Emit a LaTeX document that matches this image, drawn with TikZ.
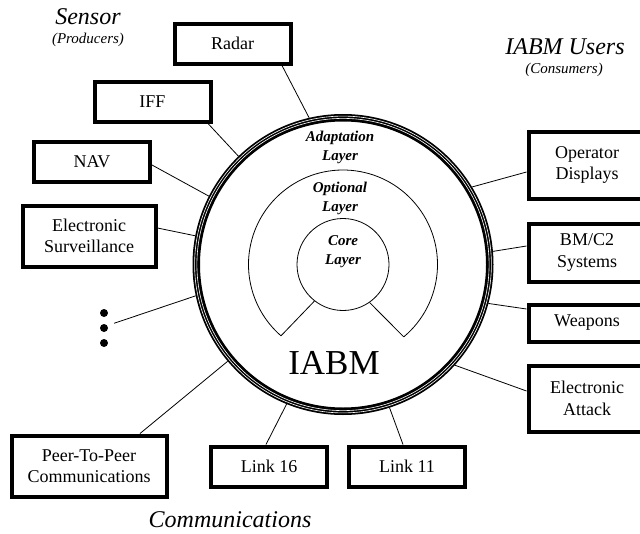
\documentclass[tikz,border=0pt]{standalone}
\usepackage{fontspec}
\setmainfont{Liberation Serif}
\usetikzlibrary{calc}

\tikzset{
  box/.style={draw, line width=4pt, align=center, inner sep=0pt, font=\fontsize{18}{21.5}\selectfont},
  small box/.style={box, minimum width=116pt, minimum height=40pt},
  user box/.style={box, minimum width=117pt},
  link/.style={line width=0.8pt},
  layer/.style={align=center, font=\fontsize{15}{19}\selectfont\bfseries\itshape},
  group/.style={font=\fontsize{24}{28}\selectfont\itshape},
  role/.style={font=\fontsize{15}{18}\selectfont\itshape}
}

\begin{document}
\begin{tikzpicture}[x=1pt, y=-1pt]
    \clip (0,0) rectangle (640,533);
    \coordinate (centre) at (343,264.5);

    % Anello esterno
    \node[circle, minimum size=301pt, inner sep=0pt, outer sep=0pt] (iabm) at (centre) {};
    \draw[line width=7.5pt] (centre) circle (146.75pt);
    \draw[white, line width=0.6pt] (centre) circle (148.4pt);
    \draw[white, line width=0.6pt] (centre) circle (146.1pt);

    % Strati interni
    \node[circle, draw, line width=0.8pt, minimum size=92pt, inner sep=0pt] (core) at (centre) {};
    \coordinate (optL) at ([shift={(229:94.5pt)}]centre);
    \coordinate (optR) at ([shift={(-50:94.5pt)}]centre);
    \draw[link] (optR) arc[start angle=-50, end angle=229, radius=94.5pt];
    \draw[link] (core.232) -- (optL);
    \draw[link] (core.-55) -- (optR);

    \node[layer] (adapt) at (340,147.5) {Adaptation\\Layer};
    \node[layer] (optional) at (340,198) {Optional\\Layer};
    \node[layer] (corelab) at (343,252) {Core\\Layer};
    \node[font=\fontsize{35}{40}\selectfont] (name) at (334,363) {IABM};

    % Sensori
    \node[small box] (radar) at (232.5,43.5) {Radar};
    \node[small box] (iff) at (152.5,101.5) {IFF};
    \node[small box] (nav) at (92,161.5) {NAV};
    \node[box, minimum width=133pt, minimum height=61pt] (surv) at (89,236) {Electronic\\Surveillance};
    \node[circle, minimum size=22pt, inner sep=0pt] (more) at (104,328) {};
    \foreach \dy in {-15,0,15}
        \fill ([yshift=\dy pt]more.center) circle (4pt);

    % Comunicazioni
    \node[box, minimum width=155pt, minimum height=61pt] (peer) at (89,466) {Peer-To-Peer\\Communications};
    \node[small box] (link16) at (269,466.5) {Link 16};
    \node[small box] (link11) at (407,466.5) {Link 11};

    % Utenti
    \node[user box, minimum height=67pt] (oper) at (587,165) {Operator\\Displays};
    \node[user box, minimum height=58pt] (bmc2) at (587,252.5) {BM/C2\\Systems};
    \node[user box, minimum height=37pt] (weap) at (587,323) {Weapons};
    \node[user box, minimum height=66pt] (attack) at (587,398.5) {Electronic\\Attack};

    % Collegamenti
    \draw[link] ([xshift=49.5pt]radar.south) -- (iabm.103.7);
    \draw[link] ([xshift=55.5pt]iff.south) -- (iabm.134.1);
    \draw[link] ([yshift=-3.5pt]nav.east) -- (iabm.153.9);
    \draw[link] ([yshift=8pt]surv.east) -- (iabm.169.2);
    \draw[link] (more.25) -- (iabm.192.4);
    \draw[link] ([xshift=51pt]peer.north) -- (iabm.220.9);
    \draw[link] ([xshift=-3pt]link16.north) -- (iabm.248.4);
    \draw[link] ([xshift=-4pt]link11.north) -- (iabm.288.5);
    \draw[link] ([yshift=7.5pt]attack.west) -- (iabm.318.9);
    \draw[link] ([yshift=14pt]weap.west) -- (iabm.345.6);
    \draw[link] ([yshift=6.5pt]bmc2.west) -- (iabm.5.8);
    \draw[link] ([yshift=-7pt]oper.west) -- (iabm.31.1);

    % Titoli
    \node[group] (sensor) at (88,17) {Sensor};
    \node[role] (prod) at (88,40) {(Producers)};
    \node[group] (users) at (565,47) {IABM Users};
    \node[role] (cons) at (564,70) {(Consumers)};
    \node[group] (comm) at (230,520) {Communications};
\end{tikzpicture}
\end{document}
